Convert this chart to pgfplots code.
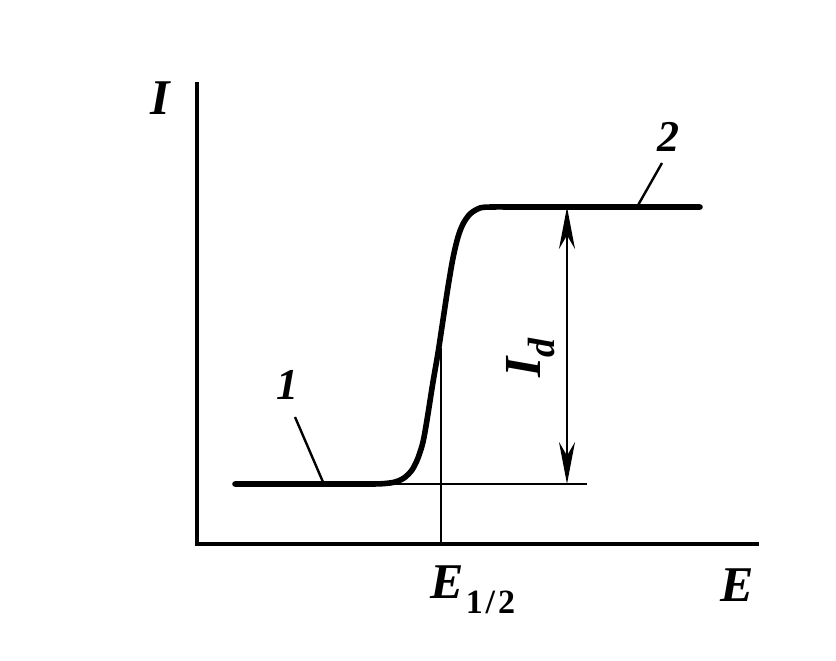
\documentclass[border=0pt]{standalone}
\usepackage{pgfplots}
\pgfplotsset{compat=1.18}
\usepackage{fontspec}
\setmainfont{Liberation Serif}
\usetikzlibrary{arrows.meta}
\begin{document}
\begin{tikzpicture}
\begin{axis}[
  scale only axis,
  width=280pt, height=230pt,
  xmin=197, xmax=757, ymin=116, ymax=576,
  axis lines=left,
  axis line style={-, line width=2pt, line cap=rect},
  xtick=\empty, ytick=\empty,
  clip=false,
]
% invisible frame giving the picture its full extent
\path (axis cs:0,0) rectangle (axis cs:836,660);
% thin baseline
\addplot[black, line width=1pt] coordinates {(385,176) (587,176)};
% half-wave vertical
\addplot[black, line width=1pt] coordinates {(441,116) (441,312)};
% polarographic wave
\addplot[black, line width=2.8pt, line cap=round, line join=round, smooth, tension=0.5] coordinates {
(235,176) (300,176) (370,176) (385,176.5) (395,178) (404,182) (412,190) (418,202) (423,218)
(427,240) (433,278) (438,307) (443,340) (448,373) (453,402) (458,423) (463,436)
(470,446) (480,452) (492,453) (520,453) (600,453) (700,453)};
% I_d arrow
\addplot[black, line width=1pt, {Stealth[length=21pt,width=8pt]}-{Stealth[length=21pt,width=8pt]}] coordinates {(567,453) (567,176)};
% leaders
\addplot[black, line width=1.2pt] coordinates {(295,243) (323,178)};
\addplot[black, line width=1.2pt] coordinates {(662,497) (637,453)};
% labels
\node[inner sep=0] at (axis cs:160,562) {\fontsize{25}{30}\selectfont\bfseries\itshape I};
\node[inner sep=0] at (axis cs:737,75) {\fontsize{25}{30}\selectfont\bfseries\itshape E};
\node[inner sep=0, anchor=base west] at (axis cs:430,62) {\fontsize{25}{30}\selectfont\bfseries\itshape E\raisebox{-7.5pt}{\fontsize{17}{20}\selectfont\upshape\kern1pt 1\kern1.5pt/\kern1.5pt2}};
\node[inner sep=0] at (axis cs:288,275) {\fontsize{22}{26}\selectfont\bfseries\itshape 1};
\node[inner sep=0] at (axis cs:668,523) {\fontsize{22}{26}\selectfont\bfseries\itshape 2};
\node[inner sep=0, rotate=90] at (axis cs:531,302) {\fontsize{26}{30}\selectfont\bfseries\itshape I\raisebox{-7pt}{\fontsize{19}{20}\selectfont d}};
\end{axis}
\end{tikzpicture}
\end{document}
